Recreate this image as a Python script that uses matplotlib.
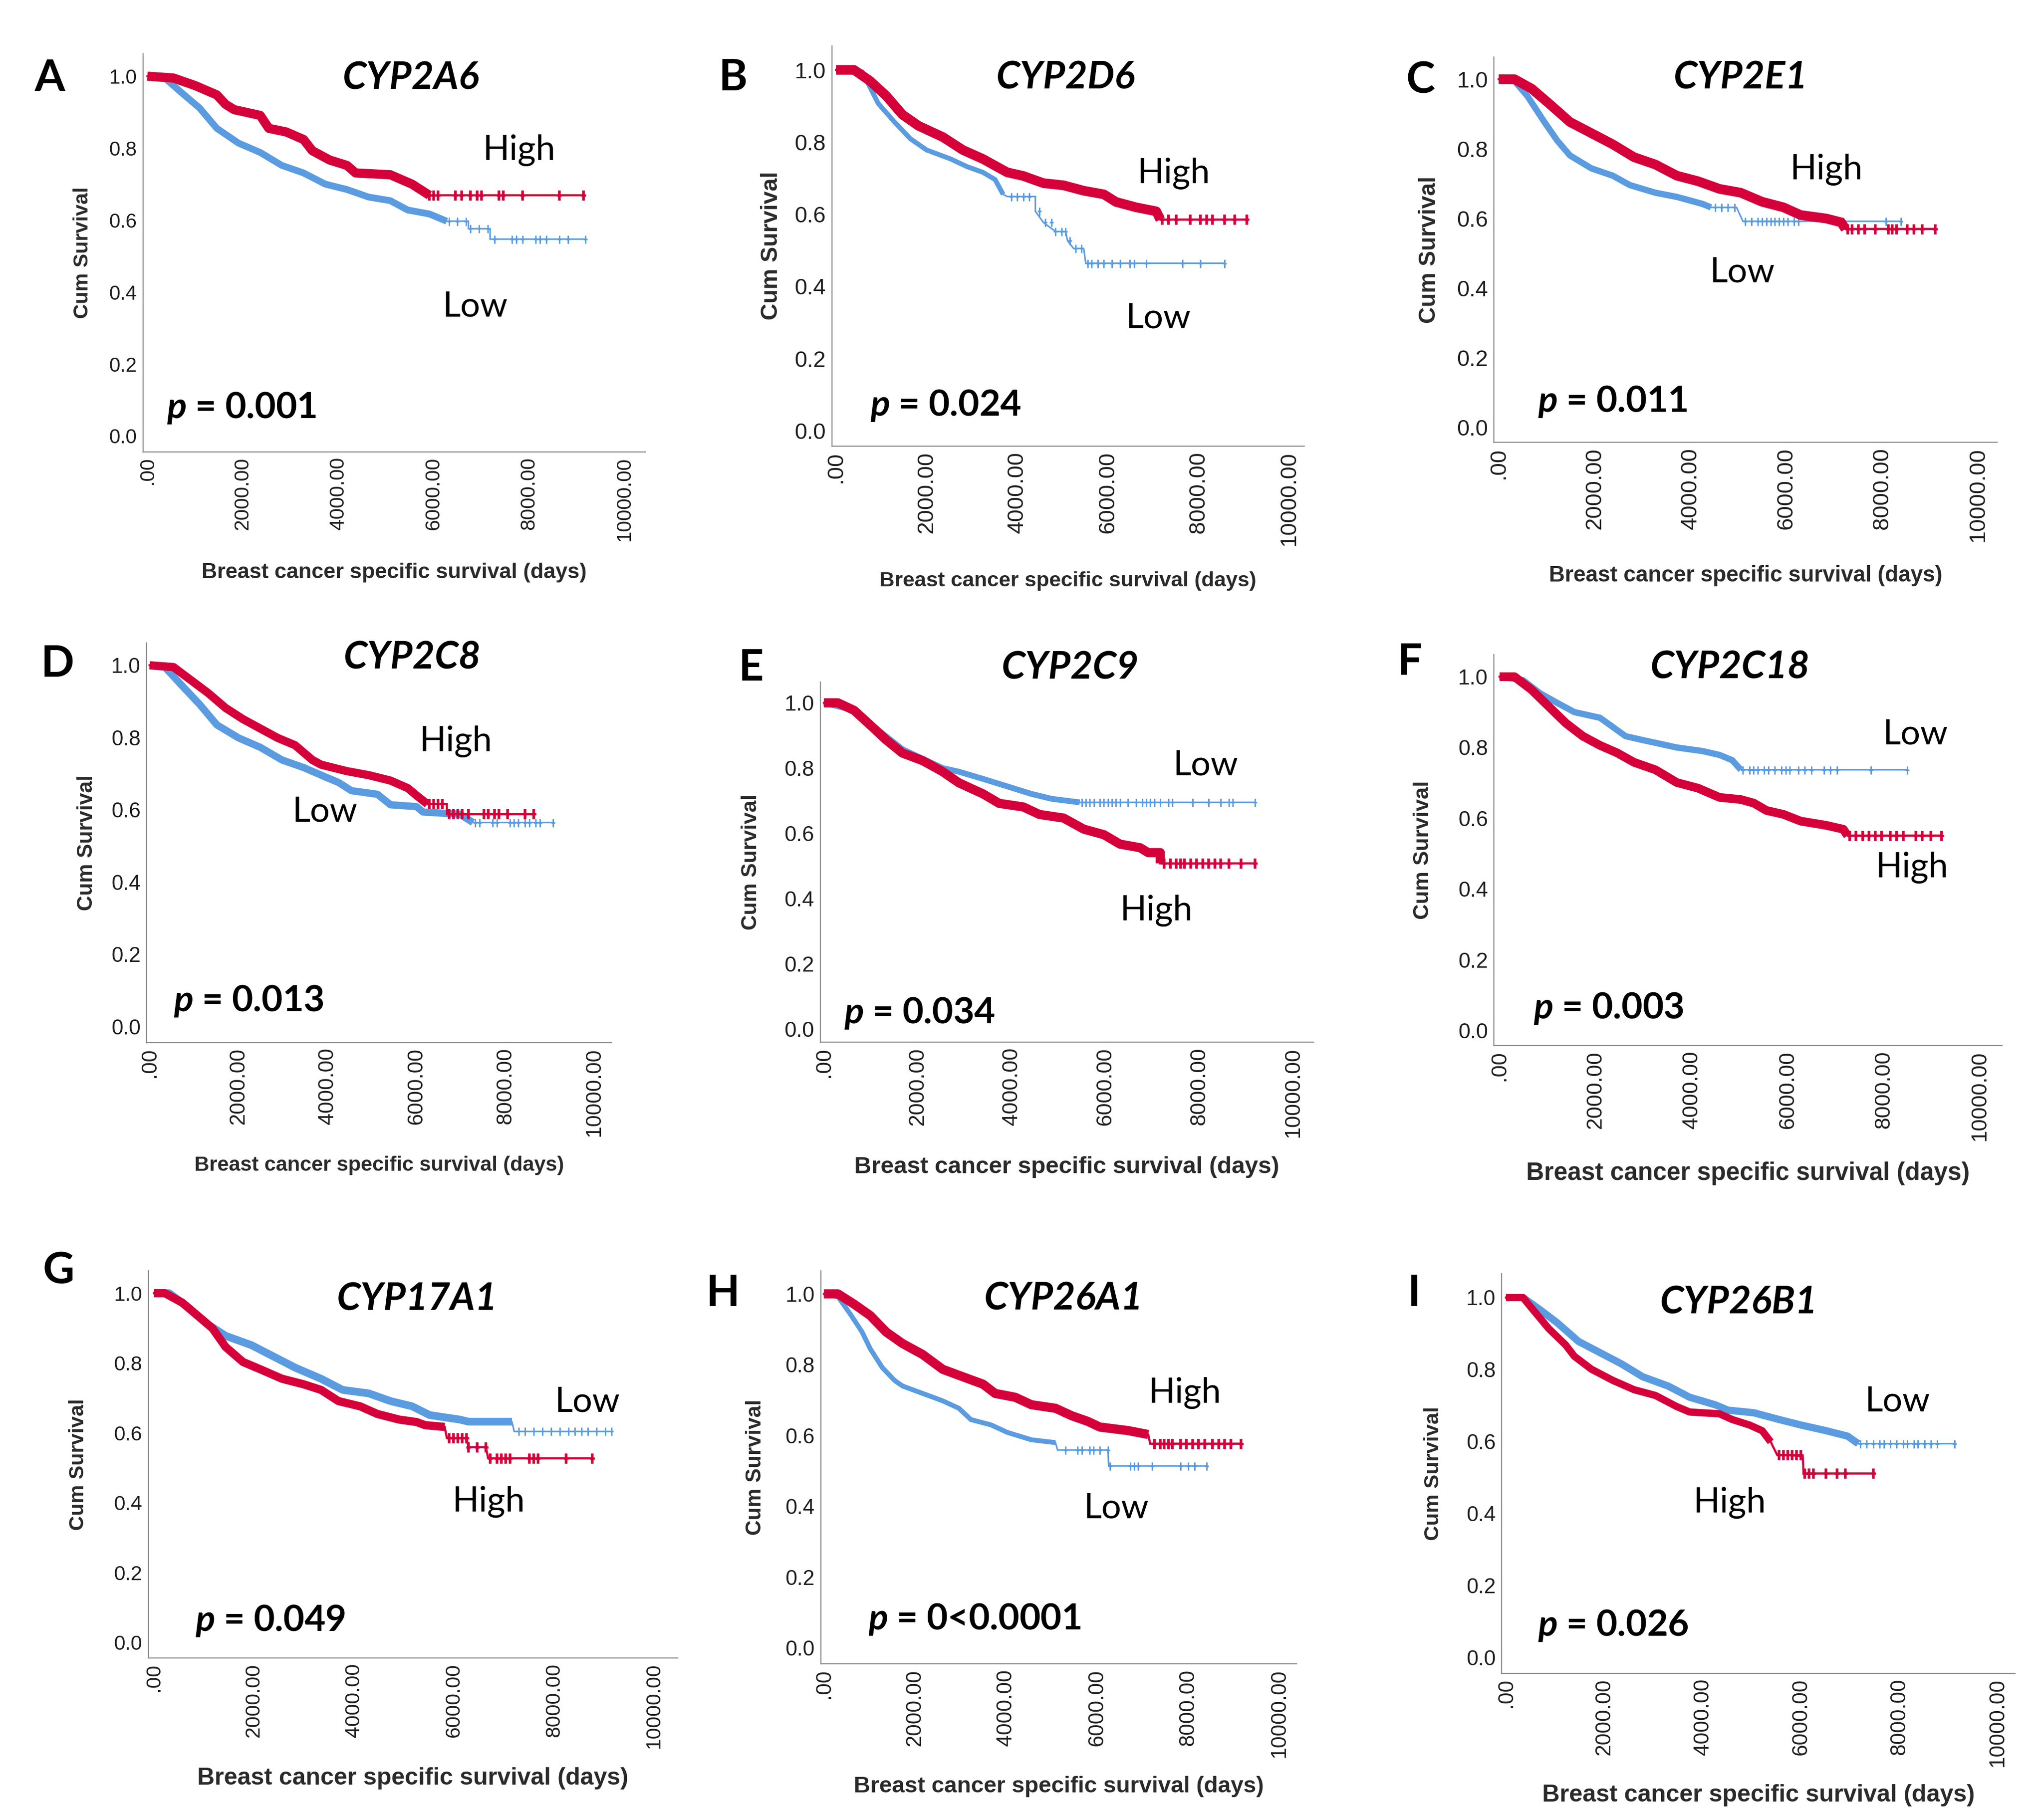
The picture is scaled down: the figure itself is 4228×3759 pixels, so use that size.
import numpy as np
import matplotlib
matplotlib.use("Agg")
import matplotlib.pyplot as plt

# ---------------------------------------------------------------
# Kaplan-Meier curves (days, cum. survival)
# *_t / *_s : curve outline, *_c : censor marks in the sparse tail
# ---------------------------------------------------------------
panel_letters = ["A", "B", "C", "D", "E", "F", "G", "H", "I"]
gene_names = ["CYP2A6", "CYP2D6", "CYP2E1", "CYP2C8", "CYP2C9",
              "CYP2C18", "CYP17A1", "CYP26A1", "CYP26B1"]
p_values = ["0.001", "0.024", "0.011", "0.013", "0.034",
            "0.003", "0.049", "0<0.0001", "0.026"]

x_ticks = [0, 2000, 4000, 6000, 8000, 10000]
x_tick_labels = [".00", "2000.00", "4000.00", "6000.00", "8000.00", "10000.00"]
y_ticks = [0.0, 0.2, 0.4, 0.6, 0.8, 1.0]
y_tick_labels = ["0.0", "0.2", "0.4", "0.6", "0.8", "1.0"]

# A  CYP2A6
A_high_t = [0, 545, 1000, 1455, 1636, 1818, 2364, 2545, 2909, 3273, 3455, 3818, 4182, 4364, 5091, 5545, 5909, 9136]
A_high_s = [1.0, 0.995, 0.974, 0.948, 0.922, 0.907, 0.891, 0.855, 0.845, 0.824, 0.793, 0.767, 0.752, 0.731, 0.726, 0.700, 0.669, 0.669]
A_high_c = [5909, 6000, 6091, 6455, 6591, 6773, 6909, 7000, 7364, 7455, 7864, 8636, 9136]
A_low_t = [0, 364, 727, 1091, 1455, 1909, 2364, 2818, 3273, 3727, 4182, 4636, 5091, 5455, 5909, 6273, 6727, 6727, 7182, 7182, 9182]
A_low_s = [1.0, 0.995, 0.953, 0.912, 0.855, 0.814, 0.788, 0.752, 0.731, 0.700, 0.685, 0.664, 0.654, 0.628, 0.617, 0.597, 0.597, 0.576, 0.576, 0.547, 0.547]
A_low_c = [6318, 6500, 6682, 6773, 6955, 7136, 7273, 7636, 7727, 7864, 8136, 8227, 8364, 8636, 8818, 9182]

# B  CYP2D6
B_high_t = [0, 400, 756, 1111, 1467, 1822, 2356, 2800, 3244, 3778, 4133, 4578, 5022, 5467, 5911, 6178, 6622, 7067, 7156, 9067]
B_high_s = [1.0, 1.0, 0.969, 0.928, 0.876, 0.845, 0.814, 0.778, 0.753, 0.716, 0.706, 0.686, 0.680, 0.665, 0.655, 0.634, 0.619, 0.608, 0.585, 0.585]
B_high_c = [7200, 7333, 7511, 7822, 8044, 8178, 8311, 8578, 8800, 9067]
B_low_t = [0, 578, 933, 1289, 1644, 2000, 2533, 2889, 3244, 3511, 3689, 3778, 4400, 4400, 4578, 4844, 5067, 5111, 5244, 5466, 5511, 8578]
B_low_s = [1.0, 0.995, 0.907, 0.856, 0.809, 0.778, 0.753, 0.732, 0.716, 0.696, 0.655, 0.649, 0.649, 0.608, 0.577, 0.552, 0.552, 0.526, 0.505, 0.505, 0.464, 0.464]
B_low_c = [3867, 4000, 4133, 4267, 4489, 4622, 4756, 4844, 4978, 5067, 5156, 5289, 5422, 5556, 5644, 5778,
           5911, 6089, 6267, 6489, 6578, 6844, 7644, 8044, 8578]

# C  CYP2E1
C_high_t = [0, 330, 686, 1043, 1488, 1934, 2380, 2825, 3271, 3717, 4162, 4608, 5053, 5499, 5945, 6301, 6836, 7148, 7237, 9109]
C_high_s = [1.0, 1.0, 0.973, 0.931, 0.877, 0.845, 0.813, 0.776, 0.755, 0.723, 0.707, 0.685, 0.674, 0.648, 0.632, 0.610, 0.600, 0.589, 0.570, 0.570]
C_high_c = [7282, 7371, 7504, 7638, 7861, 8128, 8217, 8307, 8529, 8663, 8841, 9109]
C_low_t = [0, 330, 597, 954, 1221, 1488, 1934, 2380, 2736, 3271, 3717, 4251, 4430, 4964, 5098, 8396]
C_low_s = [1.0, 0.995, 0.952, 0.877, 0.824, 0.781, 0.744, 0.723, 0.696, 0.674, 0.662, 0.642, 0.632, 0.632, 0.592, 0.592]
C_low_c = [4519, 4652, 4786, 4920, 5143, 5276, 5410, 5499, 5588, 5677, 5766, 5856, 5945, 6034, 6168, 6257,
           7193, 8084, 8396]

# D  CYP2C8
D_high_t = [0, 537, 927, 1317, 1707, 2098, 2488, 2878, 3268, 3659, 3854, 4439, 4927, 5415, 5805, 6000, 6244, 6683, 6683, 8634]
D_high_s = [1.0, 0.995, 0.959, 0.923, 0.882, 0.851, 0.825, 0.799, 0.779, 0.738, 0.725, 0.707, 0.696, 0.681, 0.660, 0.640, 0.616, 0.616, 0.588, 0.588]
D_high_c = [6293, 6390, 6488, 6585, 6732, 6829, 6927, 7024, 7171, 7512, 7610, 7756, 7854, 8049, 8439, 8634]
D_low_t = [0, 341, 732, 1122, 1512, 2000, 2488, 2976, 3463, 3951, 4244, 4537, 5122, 5415, 6000, 6146, 6976, 7268, 9073]
D_low_s = [1.0, 0.995, 0.943, 0.892, 0.835, 0.799, 0.773, 0.738, 0.717, 0.691, 0.676, 0.653, 0.643, 0.614, 0.609, 0.594, 0.588, 0.565, 0.565]
D_low_c = [7317, 7415, 7707, 7805, 8098, 8195, 8293, 8439, 8537, 8683, 8780, 9073]

# E  CYP2C9
E_high_t = [0, 300, 644, 987, 1330, 1674, 2103, 2532, 2876, 3391, 3734, 4249, 4592, 5107, 5536, 5966, 6309, 6738, 6910, 7167, 7167, 9185]
E_high_s = [1.0, 1.0, 0.977, 0.932, 0.886, 0.846, 0.823, 0.789, 0.755, 0.721, 0.692, 0.681, 0.658, 0.647, 0.613, 0.596, 0.567, 0.556, 0.541, 0.541, 0.508, 0.508]
E_high_c = [7253, 7382, 7511, 7597, 7682, 7811, 7940, 8069, 8197, 8326, 8455, 8627, 8884, 9185]
E_low_t = [0, 644, 987, 1330, 1674, 2103, 2532, 2876, 3391, 3906, 4421, 4850, 5451, 9185]
E_low_s = [1.0, 0.977, 0.937, 0.897, 0.858, 0.829, 0.800, 0.789, 0.767, 0.744, 0.721, 0.706, 0.695, 0.695]
E_low_c = [5494, 5579, 5665, 5751, 5880, 5966, 6052, 6137, 6223, 6309, 6481, 6652, 6781, 6867, 6953, 7039,
           7167, 7339, 7425, 7854, 8197, 8455, 8627, 8712, 9185]

# F  CYP2C18
F_high_t = [0, 311, 667, 1022, 1378, 1733, 2089, 2444, 2800, 3244, 3689, 4133, 4578, 5022, 5289, 5556, 5911, 6267, 6800, 7156, 7244, 9200]
F_high_s = [1.0, 1.0, 0.963, 0.916, 0.869, 0.832, 0.806, 0.785, 0.758, 0.737, 0.701, 0.685, 0.659, 0.653, 0.643, 0.622, 0.611, 0.592, 0.580, 0.569, 0.551, 0.551]
F_high_c = [7289, 7422, 7556, 7689, 7822, 7956, 8133, 8267, 8400, 8667, 8800, 8978, 9200]
F_low_t = [0, 489, 844, 1200, 1556, 2089, 2356, 2622, 2978, 3689, 4222, 4578, 4844, 5022, 8489]
F_low_s = [1.0, 0.990, 0.953, 0.926, 0.900, 0.884, 0.858, 0.832, 0.821, 0.800, 0.790, 0.779, 0.764, 0.737, 0.737]
F_low_c = [5067, 5200, 5289, 5378, 5511, 5600, 5733, 5867, 5956, 6044, 6222, 6356, 6489, 6756, 6889, 7022,
           7733, 8489]

# G  CYP17A1
G_high_t = [0, 217, 564, 911, 1172, 1432, 1780, 2127, 2561, 2995, 3342, 3689, 4123, 4470, 4905, 5252, 5425, 5816, 5859, 6250, 6293, 6641, 6684, 8767]
G_high_s = [1.0, 1.0, 0.973, 0.931, 0.899, 0.846, 0.803, 0.782, 0.755, 0.739, 0.723, 0.691, 0.676, 0.654, 0.638, 0.631, 0.622, 0.617, 0.585, 0.585, 0.559, 0.559, 0.527, 0.527]
G_high_c = [5903, 5990, 6076, 6163, 6250, 6293, 6467, 6641, 6727, 6858, 6944, 7031, 7118, 7509, 7595, 7682,
            8247, 8767]
G_low_t = [0, 304, 651, 1085, 1432, 1953, 2387, 2821, 3342, 3776, 4297, 4731, 5165, 5512, 6120, 6293, 7161, 7205, 9158]
G_low_s = [1.0, 1.0, 0.963, 0.910, 0.878, 0.851, 0.819, 0.787, 0.755, 0.723, 0.713, 0.691, 0.676, 0.651, 0.638, 0.632, 0.632, 0.604, 0.604]
G_low_c = [7292, 7422, 7595, 7769, 7943, 8116, 8290, 8420, 8550, 8681, 8854, 9028, 9158]

# H  CYP26A1
H_high_t = [0, 310, 664, 1018, 1372, 1726, 2168, 2611, 3053, 3496, 3761, 4204, 4558, 5088, 5442, 5796, 6062, 6681, 7124, 7168, 9159]
H_high_s = [1.0, 1.0, 0.971, 0.939, 0.892, 0.860, 0.829, 0.787, 0.766, 0.745, 0.719, 0.708, 0.687, 0.677, 0.656, 0.640, 0.624, 0.614, 0.603, 0.577, 0.577]
H_high_c = [7257, 7389, 7478, 7566, 7655, 7832, 7965, 8097, 8230, 8363, 8540, 8673, 8805, 8938, 9159]
H_low_t = [0, 310, 575, 841, 1018, 1283, 1549, 1726, 2168, 2611, 2965, 3230, 3673, 4027, 4558, 5088, 5133, 6239, 6257, 8407]
H_low_s = [1.0, 0.992, 0.944, 0.892, 0.845, 0.792, 0.756, 0.740, 0.719, 0.698, 0.677, 0.645, 0.630, 0.609, 0.588, 0.580, 0.559, 0.559, 0.514, 0.514]
H_low_c = [5310, 5575, 5664, 5841, 5929, 6062, 6239, 6283, 6726, 6814, 6903, 7212, 7832, 8009, 8142, 8407]

# I  CYP26B1
I_high_t = [0, 347, 521, 868, 1215, 1389, 1736, 2170, 2604, 3038, 3472, 3733, 4340, 4601, 4948, 5208, 5382, 5512, 6033, 6050, 7465]
I_high_s = [1.0, 1.0, 0.971, 0.914, 0.868, 0.837, 0.801, 0.770, 0.744, 0.728, 0.697, 0.682, 0.677, 0.661, 0.646, 0.630, 0.599, 0.563, 0.560, 0.511, 0.511]
I_high_c = [5556, 5642, 5729, 5816, 5903, 5990, 6076, 6163, 6250, 6510, 6727, 6901, 7465]
I_low_t = [0, 347, 694, 1042, 1476, 1910, 2344, 2778, 3299, 3733, 4254, 4514, 5035, 5556, 5990, 6510, 6944, 7161, 9115]
I_low_s = [1.0, 1.0, 0.966, 0.930, 0.878, 0.847, 0.816, 0.780, 0.754, 0.723, 0.702, 0.687, 0.680, 0.661, 0.646, 0.630, 0.615, 0.594, 0.594]
I_low_c = [7205, 7335, 7465, 7595, 7682, 7813, 7943, 8073, 8160, 8290, 8377, 8507, 8637, 8767, 9115]

high_curves = [(A_high_t, A_high_s, A_high_c), (B_high_t, B_high_s, B_high_c), (C_high_t, C_high_s, C_high_c),
               (D_high_t, D_high_s, D_high_c), (E_high_t, E_high_s, E_high_c), (F_high_t, F_high_s, F_high_c),
               (G_high_t, G_high_s, G_high_c), (H_high_t, H_high_s, H_high_c), (I_high_t, I_high_s, I_high_c)]
low_curves = [(A_low_t, A_low_s, A_low_c), (B_low_t, B_low_s, B_low_c), (C_low_t, C_low_s, C_low_c),
              (D_low_t, D_low_s, D_low_c), (E_low_t, E_low_s, E_low_c), (F_low_t, F_low_s, F_low_c),
              (G_low_t, G_low_s, G_low_c), (H_low_t, H_low_s, H_low_c), (I_low_t, I_low_s, I_low_c)]

# ---------------------------------------------------------------
# layout (pixels of the 4228 x 3759 canvas) and styling
# ---------------------------------------------------------------
W, H = 4228, 3759
DPI = 100
PT = 72.0 / DPI          # pixels -> points

RED = "#d5003a"
BLUE = "#5b9be0"
AXIS_GREY = "#8f8f8f"
TXT = "#1e1e1e"
SPSS_FONT = ["Liberation Sans", "DejaVu Sans"]
LABEL_FONT = ["Lato", "DejaVu Sans"]

# left, top, right, bottom of each plot area
ax_px = [(296, 111.5, 1335, 934.6), (1720.8, 94.6, 2697.5, 923), (3090.3, 117.7, 4130.8, 915.4),
         (303.3, 1330, 1265.4, 2156.9), (1696.7, 1411.5, 2716.7, 2156.2), (3090.3, 1353.8, 4141.4, 2163),
         (306.9, 2629.2, 1401.8, 3430), (1697.5, 2629.2, 2681.7, 3442.3), (3106.2, 2635.3, 4167.9, 3461.5)]
xlims = [(-90, 10436), (-89, 10329), (-98, 10401), (-68, 10390), (-77, 10429),
         (-116, 10462), (-113, 10477), (-71, 10381), (-87, 10347)]
ylims = [(-0.044, 1.062), (-0.043, 1.067), (-0.043, 1.064), (-0.044, 1.062), (-0.040, 1.063),
         (-0.042, 1.063), (-0.045, 1.064), (-0.045, 1.065), (-0.044, 1.066)]

letter_xy = [(-2045, 0.959), (-2267, 0.943), (-1631, 0.960), (-2068, 0.969), (-1545, 1.068),
             (-1867, 1.005), (-1910, 1.027), (-2212, 0.965), (-1866, 0.976)]
title_xy = [(5527, 0.964), (5067, 0.948), (5053, 0.973), (5902, 0.990), (5253, 1.074),
            (4800, 0.995), (5269, 0.952), (5265, 0.955), (4731, 0.956)]
high_xy = [(7791, 0.767), (7449, 0.686), (6836, 0.712), (6878, 0.763), (7082, 0.334),
           (8587, 0.433), (6693, 0.374), (7929, 0.693), (4549, 0.403)]
low_xy = [(6864, 0.333), (7111, 0.284), (5080, 0.418), (3932, 0.568), (8129, 0.778),
          (8658, 0.809), (8663, 0.660), (6416, 0.367), (7960, 0.684)]
p_xy = [(409, 0.050), (756, 0.041), (820, 0.045), (537, 0.043), (429, 0.018),
        (711, 0.034), (825, 0.032), (973, 0.052), (651, 0.060)]

ylabel_off = [125, 125, 134, 124, 143, 147, 145, 135, 141]     # px left of y axis
xlabel_off = [250, 279, 276, 254, 258, 264, 249, 254, 252]     # px below x axis
tick_fs = [30, 33.5, 33.5, 31.5, 32, 32, 30.5, 31.5, 31.5]
ylab_fs = [30.7, 34.7, 34.3, 31.7, 31.7, 32.4, 30.7, 31.7, 31.2]
xlab_fs = [32, 31.3, 32.8, 30.8, 35.4, 36.9, 35.8, 34.1, 36]

# solid band (dense censoring) up to this time, then a thin line with ticks
high_band = [(5909, 19), (7156, 20), (7237, 20), (6244, 17), (7167, 19),
             (7244, 18), (5816, 17), (7124, 19), (5382, 15)]
low_band = [(6273, 14), (3689, 10), (4430, 13), (7268, 15), (5451, 12),
            (5022, 13), (7161, 16), (5088, 10), (7161, 15)]

# (tail line px, censor tick height px, censor tick width px)
RED_TAIL = (4.5, 21, 5.5)
BLUE_TAIL = (3.2, 17, 3.0)

plt.rcParams["mathtext.fontset"] = "custom"
plt.rcParams["mathtext.it"] = "Lato:italic:bold"
plt.rcParams["mathtext.rm"] = "Lato:bold"


def draw_curve(ax, t, s, cens, band, tail, color, z):
    t = np.asarray(t, float)
    s = np.asarray(s, float)
    band_end, band_px = band
    line_px, tick_h, tick_w = tail
    ax.plot(t, s, color=color, lw=line_px * PT, solid_joinstyle="miter",
            zorder=z, clip_on=False)
    m = t <= band_end
    ax.plot(t[m], s[m], color=color, lw=band_px * PT, solid_capstyle="butt",
            solid_joinstyle="round", zorder=z, clip_on=False)
    c = np.asarray(cens, float)
    idx = np.searchsorted(t, c, side="right") - 1
    ax.plot(c, s[idx], ls="none", marker="|", ms=tick_h * PT, mew=tick_w * PT,
            color=color, zorder=z, clip_on=False)
    ax.plot(c, s[idx], ls="none", marker="_", ms=tick_h * 0.45 * PT, mew=line_px * PT,
            color=color, zorder=z, clip_on=False)


fig = plt.figure(figsize=(W / DPI, H / DPI), dpi=DPI)

for i in range(9):
    l, t, r, b = ax_px[i]
    ax = fig.add_axes([l / W, 1 - b / H, (r - l) / W, (b - t) / H])
    ax.set_xlim(*xlims[i])
    ax.set_ylim(*ylims[i])
    for side in ("top", "right"):
        ax.spines[side].set_visible(False)
    for side in ("left", "bottom"):
        ax.spines[side].set_color(AXIS_GREY)
        ax.spines[side].set_linewidth(2.4 * PT)

    ax.set_xticks(x_ticks)
    ax.set_xticklabels(x_tick_labels, rotation=90, fontsize=tick_fs[i],
                       family=SPSS_FONT, color=TXT)
    ax.set_yticks(y_ticks)
    ax.set_yticklabels(y_tick_labels, fontsize=tick_fs[i], family=SPSS_FONT, color=TXT)
    ax.tick_params(axis="x", length=0, pad=8)
    ax.tick_params(axis="y", length=0, pad=9)

    ax.set_ylabel("Cum Survival", fontsize=ylab_fs[i], fontweight="bold",
                  family=SPSS_FONT, color="#2a2a2a", va="center")
    ax.yaxis.set_label_coords(-ylabel_off[i] / (r - l), 0.5)
    ax.set_xlabel("Breast cancer specific survival (days)", fontsize=xlab_fs[i],
                  fontweight="bold", family=SPSS_FONT, color="#2a2a2a", va="center")
    ax.xaxis.set_label_coords(0.5, -xlabel_off[i] / (b - t))

    ht, hs, hc = high_curves[i]
    lt, ls_, lc = low_curves[i]
    draw_curve(ax, lt, ls_, lc, low_band[i], BLUE_TAIL, BLUE, 3)
    draw_curve(ax, ht, hs, hc, high_band[i], RED_TAIL, RED, 4)

    ax.text(*letter_xy[i], panel_letters[i], ha="center", va="baseline",
            fontsize=65, fontweight="bold", family=LABEL_FONT, clip_on=False)
    ax.text(*title_xy[i], gene_names[i], ha="center", va="baseline", fontsize=57,
            fontweight="bold", fontstyle="italic", family=LABEL_FONT, clip_on=False)
    ax.text(*high_xy[i], "High", ha="center", va="baseline", fontsize=52,
            family=LABEL_FONT, clip_on=False)
    ax.text(*low_xy[i], "Low", ha="center", va="baseline", fontsize=52,
            family=LABEL_FONT, clip_on=False)
    ax.text(*p_xy[i], "$p$ = " + p_values[i], ha="left", va="baseline", fontsize=54,
            fontweight="bold", family=LABEL_FONT, clip_on=False)

fig.savefig("out.png", dpi=DPI, facecolor="white")
